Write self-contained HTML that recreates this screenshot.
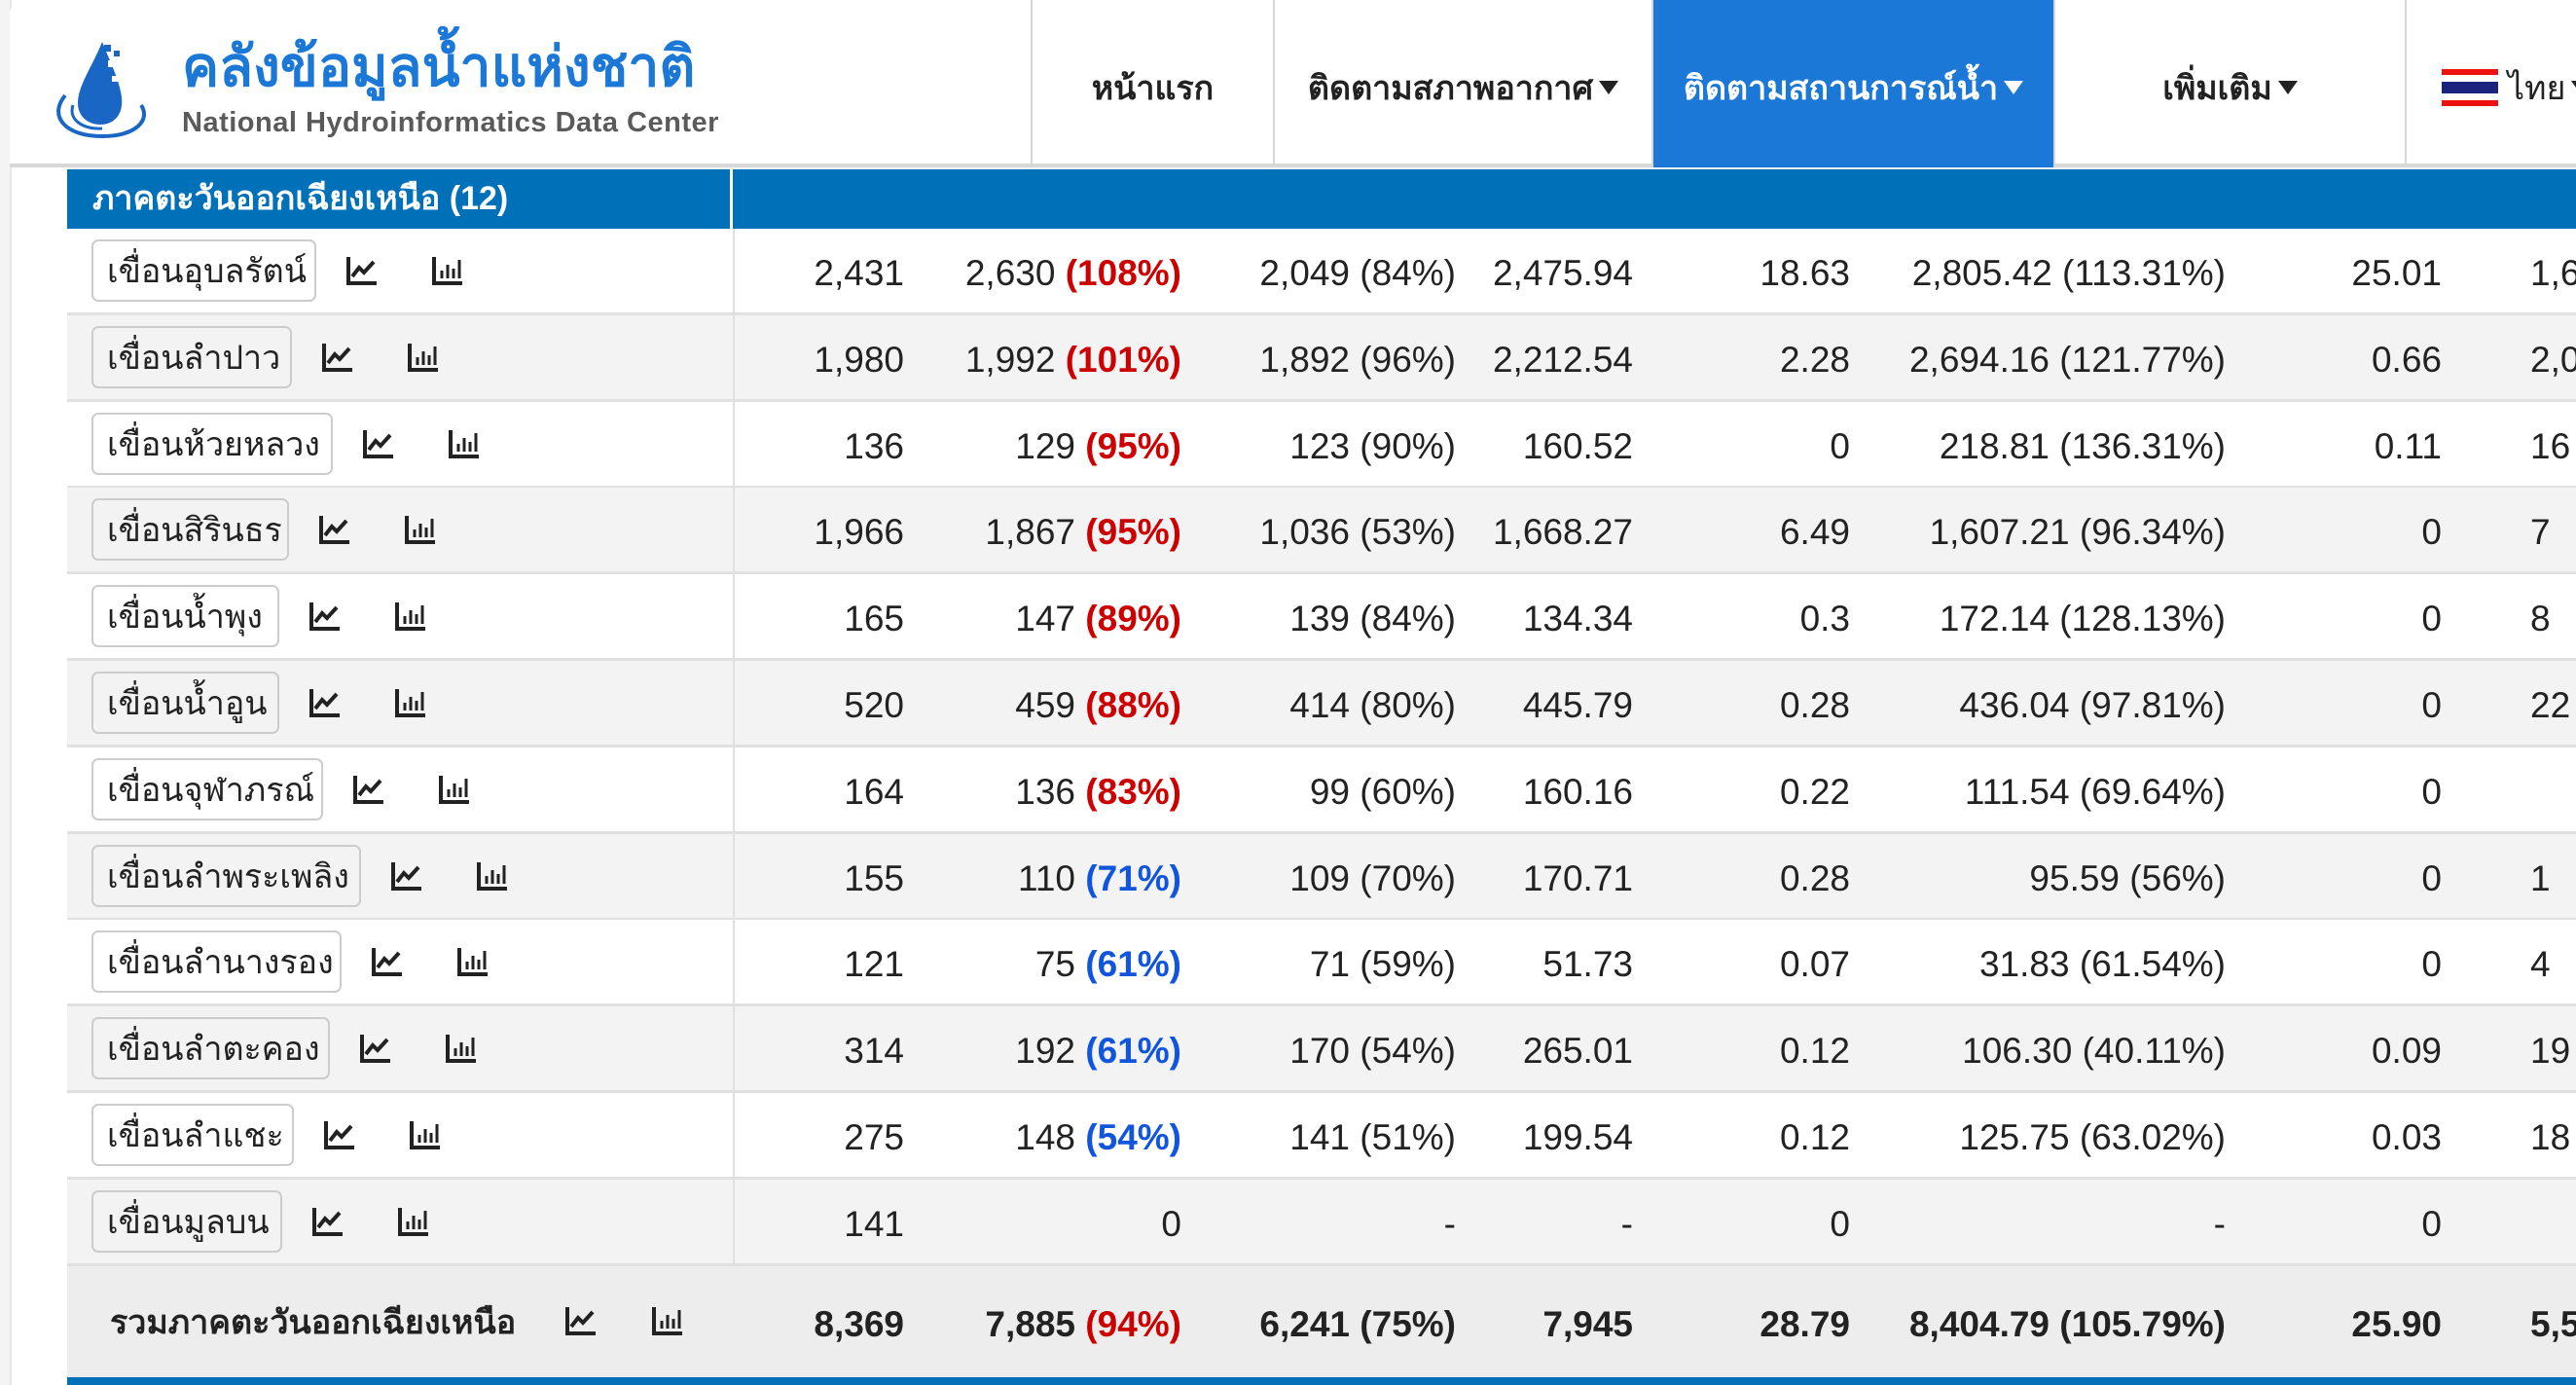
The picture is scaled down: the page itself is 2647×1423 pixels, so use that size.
<!DOCTYPE html>
<html><head><meta charset="utf-8"><style>
*{box-sizing:border-box;margin:0;padding:0}
body{width:2647px;height:1423px;overflow:hidden;background:#f4f4f4;font-family:"Liberation Sans",sans-serif;position:relative}
.gut{position:absolute;left:10px;top:0;width:60px;height:1423px;background:#fff;border-left:2px solid #e6e6e6}
.hdr{position:absolute;left:10px;top:0;width:2637px;height:172px;background:#fff;border-bottom:4px solid #d8d8d8;border-top-left-radius:14px}
.logo1{position:absolute;left:177px;top:24px;font-size:57px;font-weight:bold;color:#1b78d6;white-space:nowrap}
.logo2{position:absolute;left:177px;top:110px;font-size:29px;font-weight:bold;color:#5a5a5a;white-space:nowrap;letter-spacing:0.5px}
.nav{position:absolute;top:0;height:172px;display:flex;align-items:center;justify-content:center;font-size:34px;font-weight:bold;color:#222;white-space:nowrap;padding-top:8px;border-left:2px solid #d6d6d6}
.nav.act{background:#1b78d6;color:#fff}
.tri{display:inline-block;width:0;height:0;border-left:10px solid transparent;border-right:10px solid transparent;border-top:14px solid currentColor;margin-left:6px;vertical-align:14px}
.band{position:absolute;left:69px;top:174px;width:2578px;height:61px;background:#0070b8}
.band .l{position:absolute;left:0;top:0;width:684px;height:61px;border-right:3px solid #fff;color:#fff;font-weight:bold;font-size:34px;padding-left:26px;line-height:61px}
.row{position:absolute;left:69px;width:2600px;height:89px;border-bottom:3px solid #e0e0e0}
.row .lc{position:absolute;left:0;top:0;width:686px;height:100%;border-right:2px solid #e0e0e0;display:flex;align-items:center;padding-left:25px}
.btn{height:64px;border:2px solid #ccc;border-radius:7px;font-size:34px;color:#222;display:flex;align-items:center;padding-left:14px;white-space:nowrap}
.ic{margin-left:30px;width:34px;height:32px}
.ic2{margin-left:54px;width:34px;height:32px}
.n{position:absolute;top:3px;height:100%;display:flex;align-items:center;justify-content:flex-end;font-family:"Liberation Sans Narrow","Liberation Sans",sans-serif;font-size:37px;color:#222;white-space:nowrap}
.r{color:#cc0000;font-weight:bold}.b{color:#1155dd;font-weight:bold}
.tot{position:absolute;left:69px;top:1301px;width:2600px;height:114px;background:#ededed}
.tot .n{font-weight:bold}
.bot{position:absolute;left:69px;top:1415px;width:2600px;height:8px;background:#0070b8}
</style></head><body>
<div class="gut"></div>
<div class="hdr">
<svg style="position:absolute;left:35px;top:38px" width="120" height="105" viewBox="0 0 120 105">
<path d="M60 5 C50 30 35 50 35 68 C35 82 46 90 58 90 C72 90 82 80 80 62 C78 45 68 25 60 5Z" fill="#1a66c4"/>
<rect x="62" y="8" width="7" height="7" fill="#1a66c4"/><rect x="72" y="14" width="6" height="6" fill="#1a66c4"/><rect x="66" y="24" width="7" height="7" fill="#fff"/><rect x="70" y="40" width="6" height="6" fill="#fff"/>
<path d="M22 60 C5 80 20 102 60 102 C95 102 110 85 100 70" fill="none" stroke="#1a66c4" stroke-width="4"/>
<path d="M30 70 C25 85 40 95 60 94" fill="none" stroke="#1a66c4" stroke-width="3"/>
</svg>
<div class="logo1">คลังข้อมูลน้ำแห่งชาติ</div>
<div class="logo2">National Hydroinformatics Data Center</div>
</div>
<div class="nav" style="left:1059px;width:249px">หน้าแรก</div>
<div class="nav" style="left:1308px;width:389px">ติดตามสภาพอากาศ<span class="tri"></span></div>
<div class="nav act" style="left:1697px;width:413px">ติดตามสถานการณ์น้ำ<span class="tri"></span></div>
<div class="nav" style="left:2110px;width:361px">เพิ่มเติม<span class="tri"></span></div>
<div class="nav" style="left:2471px;width:200px;justify-content:flex-start;padding-left:36px"><svg width="58" height="38" style="margin-right:10px"><rect width="58" height="38" fill="#e11"/><rect y="6" width="58" height="26" fill="#fff"/><rect y="13" width="58" height="12" fill="#1a237e"/></svg><span style="font-weight:normal">ไทย</span><span class="tri"></span></div>
<div class="band"><div class="l">ภาคตะวันออกเฉียงเหนือ (12)</div></div>
<div id="rows"></div>
<div class="tot">
<div style="position:absolute;left:44px;top:0;height:114px;display:flex;align-items:center;font-size:34px;font-weight:bold;color:#222;white-space:nowrap">รวมภาคตะวันออกเฉียงเหนือ</div>
<svg style="position:absolute;left:511px;top:40px" width="34" height="32" viewBox="0 0 34 32"><path d="M3 2V29H32" fill="none" stroke="#222" stroke-width="4"/><path d="M7 22L14 13L19 18L29 7" fill="none" stroke="#222" stroke-width="4"/></svg>
<svg style="position:absolute;left:600px;top:40px" width="34" height="32" viewBox="0 0 34 32"><path d="M3 2V29H32" fill="none" stroke="#222" stroke-width="4"/><path d="M11 24V16M17 24V10M23 24V14M29 24V5" stroke="#222" stroke-width="3"/></svg>
<div class="n" style="right:1740px">8,369</div>
<div class="n" style="right:1455px">7,885&nbsp;<span class="r">(94%)</span></div>
<div class="n" style="right:1173px">6,241 (75%)</div>
<div class="n" style="right:991px">7,945</div>
<div class="n" style="right:768px">28.79</div>
<div class="n" style="right:382px">8,404.79 (105.79%)</div>
<div class="n" style="right:160px">25.90</div>
<div class="n" style="left:2531px;justify-content:flex-start">5,58</div>
</div>
<div class="bot"></div>
<script>
const d=[
["เขื่อนอุบลรัตน์",231,"2,431","2,630","108%","r","2,049 (84%)","2,475.94","18.63","2,805.42 (113.31%)","25.01","1,60"],
["เขื่อนลำปาว",206,"1,980","1,992","101%","r","1,892 (96%)","2,212.54","2.28","2,694.16 (121.77%)","0.66","2,05"],
["เขื่อนห้วยหลวง",248,"136","129","95%","r","123 (90%)","160.52","0","218.81 (136.31%)","0.11","16"],
["เขื่อนสิรินธร",203,"1,966","1,867","95%","r","1,036 (53%)","1,668.27","6.49","1,607.21 (96.34%)","0","7"],
["เขื่อนน้ำพุง",193,"165","147","89%","r","139 (84%)","134.34","0.3","172.14 (128.13%)","0","8"],
["เขื่อนน้ำอูน",193,"520","459","88%","r","414 (80%)","445.79","0.28","436.04 (97.81%)","0","22"],
["เขื่อนจุฬาภรณ์",238,"164","136","83%","r","99 (60%)","160.16","0.22","111.54 (69.64%)","0",""],
["เขื่อนลำพระเพลิง",277,"155","110","71%","b","109 (70%)","170.71","0.28","95.59 (56%)","0","1"],
["เขื่อนลำนางรอง",257,"121","75","61%","b","71 (59%)","51.73","0.07","31.83 (61.54%)","0","4"],
["เขื่อนลำตะคอง",245,"314","192","61%","b","170 (54%)","265.01","0.12","106.30 (40.11%)","0.09","19"],
["เขื่อนลำแชะ",208,"275","148","54%","b","141 (51%)","199.54","0.12","125.75 (63.02%)","0.03","18"],
["เขื่อนมูลบน",196,"141","0","","","-","-","0","-","0",""]];
const ic1='<svg class="ic" viewBox="0 0 34 32"><path d="M3 2V29H32" fill="none" stroke="#222" stroke-width="4"/><path d="M7 22L14 13L19 18L29 7" fill="none" stroke="#222" stroke-width="4"/></svg>';
const ic2='<svg class="ic2" viewBox="0 0 34 32"><path d="M3 2V29H32" fill="none" stroke="#222" stroke-width="4"/><path d="M11 24V16M17 24V10M23 24V14M29 24V5" stroke="#222" stroke-width="3"/></svg>';
let h='';
d.forEach((r,i)=>{
 const top=235+i*88.8;
 const bg=i%2?'#f3f3f3':'#fff';
 const p=r[4]?'&nbsp;<span class="'+r[5]+'">('+r[4]+')</span>':'';
 h+=`<div class="row" style="top:${top}px;background:${bg}"><div class="lc"><div class="btn" style="width:${r[1]}px">${r[0]}</div>${ic1}${ic2}</div>
<div class="n" style="right:1740px">${r[2]}</div>
<div class="n" style="right:1455px">${r[3]}${p}</div>
<div class="n" style="right:1173px">${r[6]}</div>
<div class="n" style="right:991px">${r[7]}</div>
<div class="n" style="right:768px">${r[8]}</div>
<div class="n" style="right:382px">${r[9]}</div>
<div class="n" style="right:160px">${r[10]}</div>
<div class="n" style="left:2531px;justify-content:flex-start">${r[11]}</div></div>`;
});
document.getElementById('rows').innerHTML=h;
</script>
</body></html>
